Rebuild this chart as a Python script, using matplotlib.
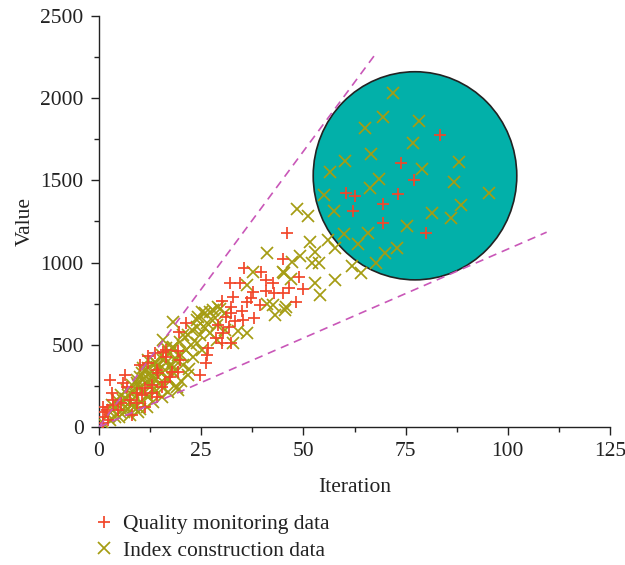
import matplotlib
matplotlib.use("Agg")
import matplotlib.pyplot as plt
from matplotlib.patches import Ellipse
from matplotlib.lines import Line2D
from matplotlib.ticker import MultipleLocator

# ---------------- data ----------------
red_x = [83.5, 73.8, 77.0, 60.3, 62.6, 73.2, 69.5, 62.2, 69.5, 80.1,
         45.9, 45.1, 49.0, 42.6, 46.5, 50.0, 45.1, 42.8, 48.2,
         35.5, 39.6, 40.8, 32.0, 34.5, 40.8, 37.7, 37.2, 36.1, 32.7, 30.0, 39.5, 32.2,
         34.9, 32.4, 31.1, 35.3, 37.9, 33.3, 29.2, 31.9, 30.4, 28.6, 30.2, 32.4, 26.3,
         21.3, 19.6, 16.5, 15.6, 19.4, 16.4, 26.7, 26.2, 19.8, 19.4, 24.7, 10.0, 12.1,
         14.1, 6.4, 2.7, 3.1, 1.1, 2.0, 1.1, 16.1, 17.4, 11.2, 12.9, 7.6, 9.2, 5.5, 3.5,
         12.1, 13.7, 5.9, 6.8, 12.9, 10.4, 14.1, 3.5, 1.5, 4.7, 2.3, 1.1, 8.0, 11.2, 9.2,
         15.3, 14.5, 17.8]
red_y = [1776, 1604, 1502, 1422, 1405, 1417, 1355, 1314, 1239, 1178,
         1182, 1022, 910, 878, 844, 838, 817, 817, 762,
         965, 945, 894, 874, 878, 827, 823, 783, 762, 793, 766, 742, 728,
         706, 695, 667, 651, 661, 647, 620, 606, 570, 540, 513, 509, 438,
         631, 580, 468, 458, 462, 428, 479, 391, 408, 336, 316, 377, 387,
         347, 316, 286, 205, 124, 103, 63, 276, 306, 235, 205, 164, 205, 144, 164,
         432, 448, 266, 245, 255, 195, 184, 134, 93, 103, 43, 22, 73, 124, 144,
         245, 327, 336]

olive_x = [71.8, 69.5, 78.3, 65.0, 76.7, 66.5, 60.1, 88.1, 56.5, 79.1, 68.5, 86.8, 66.4,
           55.1, 95.4, 57.5, 88.5, 81.4, 86.1, 51.2, 75.4, 60.0, 65.8, 63.3, 72.9, 69.9, 67.7,
           51.6, 56.1, 52.8, 57.7, 52.0, 53.9, 61.8, 64.2, 52.8, 57.7,
           48.5, 49.1, 47.1, 45.2, 46.9, 54.0, 45.7, 42.6,
           41.2, 37.7, 36.3, 45.1, 41.0, 43.0, 45.6, 36.3, 34.1, 32.8, 25.1, 27.1, 29.2,
           27.8, 29.6, 25.9, 24.3, 18.0, 28.4, 30.8, 26.3, 23.9, 28.8, 21.8, 24.7, 27.1,
           30.8, 15.7, 19.8, 23.9, 28.8, 17.8, 21.4, 25.1, 15.3, 19.4, 23.1, 12.1, 16.5,
           20.6, 10.8, 14.5, 18.2, 21.8, 10.0, 13.3, 16.9, 19.0, 9.2, 12.5, 15.7, 8.4,
           11.7, 19.4,
           1.5, 2.7, 2.3, 3.9, 3.5, 5.1, 3.1, 4.7, 6.4, 4.3, 5.9, 7.6, 5.5, 7.2, 8.8,
           6.8, 10.4, 8.0, 9.6, 9.2, 11.0, 12.9, 10.4, 12.5, 14.5, 12.1, 14.1, 16.1,
           13.7, 15.7, 17.8, 17.4, 16.5, 18.2, 7.6, 9.6, 11.7, 13.3, 15.3, 16.9,
           6.0, 8.5, 10.2, 12.0, 13.8, 6.5, 8.2, 10.0, 11.5, 13.5, 15.0, 17.0, 14.0,
           16.0, 18.5, 20.0, 22.5, 20.5, 22.8, 26.0, 24.0, 9.8, 7.0, 5.0, 13.0, 11.0,
           18.0, 20.0, 22.0]
olive_y = [2030, 1887, 1863, 1817, 1726, 1659, 1618, 1614, 1549, 1568, 1507, 1492, 1452,
           1411, 1425, 1314, 1350, 1304, 1273, 1283, 1223, 1174, 1182, 1111, 1087, 1060, 999,
           1127, 1137, 1066, 1087, 996, 999, 979, 939, 874, 894,
           1324, 1040, 1005, 939, 898, 803, 732, 742,
           1060, 945, 864, 945, 748, 681, 712, 574, 586, 509, 701, 701, 732,
           712, 716, 692, 671, 640, 661, 692, 631, 610, 620, 560, 560, 570,
           590, 529, 519, 509, 529, 479, 468, 468, 438, 438, 428, 408, 387,
           377, 357, 347, 336, 316, 306, 296, 286, 245, 266, 245, 235, 215,
           195, 225,
           12, 43, 73, 63, 103, 93, 134, 134, 124, 164, 164, 154, 195, 195, 184,
           225, 215, 255, 255, 286, 296, 276, 327, 327, 306, 357, 367, 347,
           397, 408, 377, 448, 479, 489, 73, 93, 124, 154, 184, 215,
           90, 120, 150, 180, 210, 170, 140, 110, 270, 240, 270, 300, 390,
           420, 410, 440, 500, 560, 590, 600, 650, 235, 110, 60, 310, 340,
           360, 280, 350]

upper_line_x = [0, 68.0]
upper_line_y = [0, 2281]
lower_line_x = [0, 109.5]
lower_line_y = [0, 1185]

circle_center = (77.3, 1528)
circle_w = 49.8
circle_h = 1266

x_ticks = [0, 25, 50, 75, 100, 125]
y_ticks = [0, 500, 1000, 1500, 2000, 2500]

red_label = "Quality monitoring data"
olive_label = "Index construction data"

# ---------------- style ----------------
plt.rcParams['font.family'] = ['Liberation Serif', 'DejaVu Serif']
RED = '#f2462a'
OLIVE = '#a59c12'
TEAL = '#02b0a9'
DASH = '#c957b8'
TXT = '#222222'

fig = plt.figure(figsize=(6.25, 5.65), dpi=100)
ax = fig.add_axes([99/625, 1-427/565, (610-99)/625, (427-16)/565])

ax.add_patch(Ellipse(circle_center, circle_w, circle_h, facecolor=TEAL,
                     edgecolor=TXT, linewidth=1.2, zorder=1))

ax.plot(olive_x, olive_y, linestyle='none', marker='x', markersize=8,
        markeredgewidth=1.25, color=OLIVE, zorder=3)
ax.plot(red_x, red_y, linestyle='none', marker='+', markersize=8,
        markeredgewidth=1.25, color=RED, zorder=4)

ax.plot(upper_line_x, upper_line_y, linestyle=(0, (5, 3.5)), color=DASH, lw=1.2, zorder=5)
ax.plot(lower_line_x, lower_line_y, linestyle=(0, (5, 3.5)), color=DASH, lw=1.2, zorder=5)

ax.set_xlim(0, 125)
ax.set_ylim(0, 2500)
ax.set_xticks(x_ticks)
ax.set_yticks(y_ticks)
ax.xaxis.set_minor_locator(MultipleLocator(12.5))
ax.yaxis.set_minor_locator(MultipleLocator(250))
for s in ['top', 'right']:
    ax.spines[s].set_visible(False)
for s in ['left', 'bottom']:
    ax.spines[s].set_linewidth(1.0)
    ax.spines[s].set_color(TXT)
ax.tick_params(which='major', direction='out', length=6, width=1.0,
               labelsize=15.5, colors=TXT, pad=5)
ax.tick_params(which='minor', direction='out', length=3.5, width=1.0, colors=TXT)

ax.set_xlabel('Iteration', fontsize=15.5, color=TXT, labelpad=12)
ax.set_ylabel('Value', fontsize=15.5, color=TXT, labelpad=4)

handles = [Line2D([], [], linestyle='none', marker='+', markersize=8,
                  markeredgewidth=1.25, color=RED),
           Line2D([], [], linestyle='none', marker='x', markersize=8,
                  markeredgewidth=1.25, color=OLIVE)]
fig.legend(handles, [red_label, olive_label], loc='upper left',
           bbox_to_anchor=(95/625, 1-514/565), frameon=False,
           fontsize=15.5, handlelength=0.8, handletextpad=0.5,
           labelspacing=0.3, borderaxespad=0, borderpad=0,
           labelcolor=TXT)

fig.savefig('out.png', dpi=100)
